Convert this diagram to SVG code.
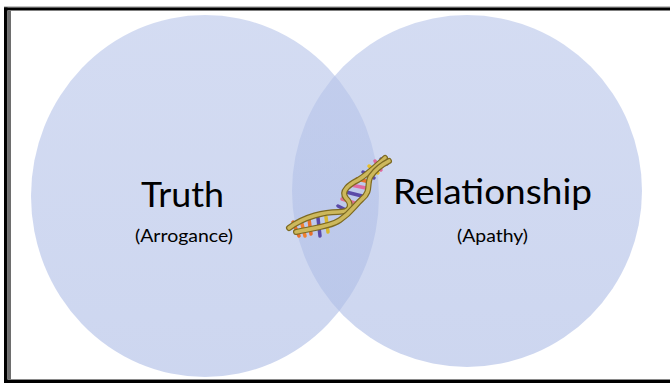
<svg xmlns="http://www.w3.org/2000/svg" width="670" height="387" viewBox="0 0 670 387">
  <defs>
    <linearGradient id="fillGrad" x1="0" y1="0" x2="0" y2="1">
      <stop offset="0" stop-color="#b9c6ea"/>
      <stop offset="1" stop-color="#aebde6"/>
    </linearGradient>
    <style>
      .circle { fill: url(#fillGrad); fill-opacity: 0.62; }
      .big { font-family: Lato, "Open Sans", "Liberation Sans", sans-serif; font-size: 35px; fill: #000; text-anchor: middle; }
      .small { font-family: Lato, "Open Sans", "Liberation Sans", sans-serif; font-size: 18px; fill: #000; text-anchor: middle; }
      .strand { fill: none; stroke: #7d6a22; stroke-width: 6; stroke-linecap: round; }
      .strandIn { fill: none; stroke: #cdb85c; stroke-width: 3.6; stroke-linecap: round; }
      .rung { stroke-width: 3.5; stroke-linecap: round; }
    </style>
  </defs>
  <rect x="0" y="0" width="670" height="387" fill="#ffffff"/>

  <g id="frame">
    <rect x="4" y="6.5" width="666" height="1" fill="#8a8a8a"/>
    <rect x="4" y="7.5" width="666" height="3" fill="#000"/>
    <rect x="4" y="379" width="666" height="1" fill="#8a8a8a"/>
    <rect x="4" y="380" width="666" height="3" fill="#000"/>
    <rect x="4" y="7.5" width="3.5" height="375.5" fill="#000"/>
    <rect x="7.5" y="10.5" width="3.5" height="369" fill="#6e6e6e"/>
  </g>

  <g id="truth">
    <ellipse class="circle" cx="205" cy="196" rx="174" ry="181"/>
  </g>
  <g id="relationship">
    <ellipse class="circle" cx="467" cy="191" rx="175" ry="176"/>
  </g>

  <g id="dna">
    <path class="rung" stroke="#e8702a" d="M293,222 L299,236"/>
    <path class="rung" stroke="#f08030" d="M301,220 L305,236"/>
    <path class="rung" stroke="#e8702a" d="M309,219 L311,234"/>
    <path class="rung" stroke="#5a4aa8" d="M318,218 L320,236"/>
    <path class="rung" stroke="#d8b830" d="M326,217 L328,232"/>
    <path class="rung" stroke="#5a4aa8" d="M338,206 L350,212"/>
    <path class="rung" stroke="#e07090" d="M342,199 L358,204"/>
    <path class="rung" stroke="#5a4aa8" d="M346,192 L362,196"/>
    <path class="rung" stroke="#e06aa0" d="M351,185 L366,188"/>
    <path class="rung" stroke="#e8702a" d="M357,179 L370,182"/>
    <path class="rung" stroke="#5a4aa8" d="M363,172 L374,178"/>
    <path class="rung" stroke="#e8c030" d="M369,166 L378,173"/>
    <path class="rung" stroke="#e06aa0" d="M375,161 L381,170"/>
    <path class="rung" stroke="#5a4aa8" d="M381,159 L387,164"/>
    <path class="strand" d="M289,228 C305,216 325,212 338,212 C352,212 352,204 346,198 C340,191 350,184 358,180 C368,174 376,166 385,158"/>
    <path class="strandIn" d="M289,228 C305,216 325,212 338,212 C352,212 352,204 346,198 C340,191 350,184 358,180 C368,174 376,166 385,158"/>
    <path class="strand" d="M296,232 C312,228 330,227 340,220 C352,212 354,206 362,199 C372,191 366,183 371,176 C376,169 381,165 389,161"/>
    <path class="strandIn" d="M296,232 C312,228 330,227 340,220 C352,212 354,206 362,199 C372,191 366,183 371,176 C376,169 381,165 389,161"/>
  </g>

  <g id="labels">
    <text class="big" x="182.5" y="207" textLength="83" lengthAdjust="spacingAndGlyphs">Truth</text>
    <text class="small" x="184" y="242" textLength="98" lengthAdjust="spacingAndGlyphs">(Arrogance)</text>
    <text class="big" x="492.5" y="204" textLength="199" lengthAdjust="spacingAndGlyphs">Relationship</text>
    <text class="small" x="492.5" y="242" textLength="71" lengthAdjust="spacingAndGlyphs">(Apathy)</text>
  </g>
</svg>
